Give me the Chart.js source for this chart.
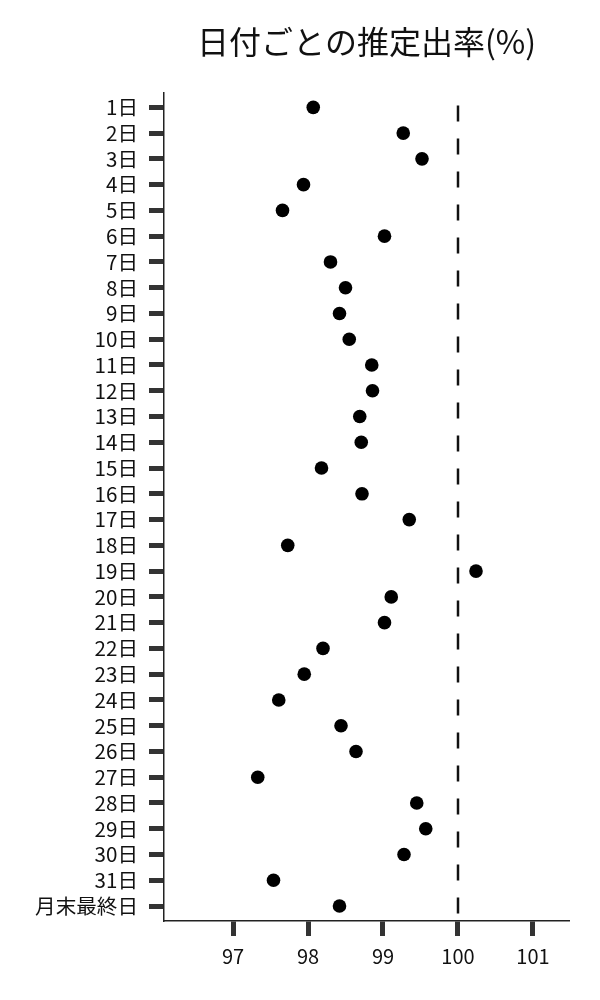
<!DOCTYPE html>
<html>
<head>
<meta charset="utf-8">
<script src="https://cdn.jsdelivr.net/npm/chart.js@4.4.0/dist/chart.umd.min.js"></script>
<style>
  html, body { margin:0; padding:0; background:#fff; }
  #wrap { width:600px; height:1000px; }
</style>
</head>
<body>
<div id="wrap"><canvas id="chart" width="600" height="1000"></canvas></div>
<script>
// ---- data ----
const days = [
  '1日','2日','3日','4日','5日','6日','7日','8日','9日','10日',
  '11日','12日','13日','14日','15日','16日','17日','18日','19日','20日',
  '21日','22日','23日','24日','25日','26日','27日','28日','29日','30日',
  '31日','月末最終日'
];
const rates = [
  98.07, 99.27, 99.52, 97.94, 97.66, 99.02, 98.30, 98.50, 98.42, 98.55,
  98.85, 98.86, 98.69, 98.71, 98.18, 98.72, 99.35, 97.73, 100.24, 99.11,
  99.02, 98.20, 97.95, 97.61, 98.44, 98.64, 97.33, 99.45, 99.57, 99.28,
  97.54, 98.42
];
const xTicks = [97, 98, 99, 100, 101];
const refValue = 100;

const FONT = '"Noto Sans CJK JP", "Noto Sans", sans-serif';
const yMin = -0.58, yMax = days.length - 1 + 0.58;

const points = rates.map((v, i) => ({ x: v, y: i }));
const refLine = [{ x: refValue, y: yMin }, { x: refValue, y: yMax }];

new Chart(document.getElementById('chart'), {
  type: 'scatter',
  data: {
    datasets: [
      {
        label: 'ref',
        data: refLine,
        showLine: true,
        pointRadius: 0,
        borderColor: '#111',
        borderWidth: 2.5,
        borderDash: [16, 17],
        borderDashOffset: 20,
      },
      {
        label: '推定出率',
        data: points,
        pointRadius: 6.8,
        pointHoverRadius: 6.8,
        backgroundColor: '#000',
        borderWidth: 0,
      }
    ]
  },
  options: {
    responsive: false,
    animation: false,
    layout: { padding: { left: 0, right: 31, top: 0, bottom: 0 } },
    plugins: {
      legend: { display: false },
      tooltip: { enabled: false },
      title: {
        display: true,
        text: '日付ごとの推定出率(%)',
        fullSize: false,
        color: '#111',
        font: { family: FONT, size: 32, weight: 'normal', lineHeight: 1.2 },
        padding: { top: 23, bottom: 31 },
      }
    },
    scales: {
      x: {
        type: 'linear',
        min: 96.08,
        max: 101.48,
        afterBuildTicks: axis => { axis.ticks = xTicks.map(v => ({ value: v })); },
        afterFit: axis => { axis.height = 79; },
        ticks: { color: '#111', font: { family: FONT, size: 20 }, padding: 8 },
        grid: { drawOnChartArea: false, tickLength: 15, tickWidth: 5, tickColor: '#333' },
        border: { display: true, color: '#222', width: 1.5 },
      },
      y: {
        type: 'linear',
        reverse: true,
        min: yMin,
        max: yMax,
        afterBuildTicks: axis => { axis.ticks = days.map((_, i) => ({ value: i })); },
        afterFit: axis => { axis.width = 164; },
        ticks: {
          color: '#111',
          font: { family: FONT, size: 20.6 },
          padding: 11,
          autoSkip: false,
          callback: v => days[v],
        },
        grid: { drawOnChartArea: false, tickLength: 15, tickWidth: 5, tickColor: '#333' },
        border: { display: true, color: '#222', width: 1.5 },
      }
    }
  }
});
</script>
</body>
</html>
